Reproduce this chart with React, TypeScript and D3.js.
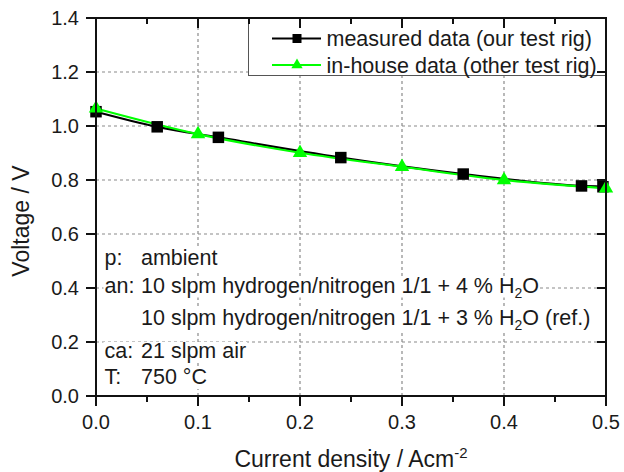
import React, { useEffect, useRef } from "react";
import * as d3 from "d3";

const measuredX = [0, 0.06, 0.12, 0.24, 0.36, 0.476, 0.497];
const measuredY = [1.053, 0.997, 0.958, 0.883, 0.822, 0.778, 0.775];
const inhouseX = [0, 0.1, 0.2, 0.3, 0.4, 0.5];
const inhouseY = [1.065, 0.97, 0.901, 0.849, 0.8, 0.769];
const xTicks = [0, 0.1, 0.2, 0.3, 0.4, 0.5];
const xMinorTicks = [0.05, 0.15, 0.25, 0.35, 0.45];
const yTicks = [0, 0.2, 0.4, 0.6, 0.8, 1.0, 1.2, 1.4];
const legendLabels = ["measured data (our test rig)", "in-house data (other test rig)"];

const W = 624, H = 472;
const FONT = "'Liberation Sans', Arial, sans-serif";

export default function App() {
  const ref = useRef<SVGSVGElement>(null);
  useEffect(() => {
    const svg = d3.select(ref.current);
    svg.selectAll("*").remove();
    const x = d3.scaleLinear().domain([0, 0.5]).range([96, 606]);
    const y = d3.scaleLinear().domain([0, 1.4]).range([396, 18]);
    const [x0, x1] = x.range();
    const [y0, y1] = y.range();
    const grid = "#8a8a8a";

    // grid
    const g = svg.append("g");
    g.selectAll("line.vg").data(xTicks.slice(1, -1)).enter().append("line")
      .attr("x1", d => x(d)).attr("x2", d => x(d)).attr("y1", y0).attr("y2", y1)
      .attr("stroke", grid).attr("stroke-width", 1.2).attr("stroke-dasharray", "3,3");
    g.selectAll("line.hg").data(yTicks.slice(1, -1)).enter().append("line")
      .attr("y1", d => y(d)).attr("y2", d => y(d)).attr("x1", x0).attr("x2", x1)
      .attr("stroke", grid).attr("stroke-width", 1.2).attr("stroke-dasharray", "3,3");

    // legend box
    svg.append("rect").attr("x", 248.5).attr("y", y1).attr("width", x1 - 248.5).attr("height", 57.5)
      .attr("fill", "#fff").attr("stroke", "#555").attr("stroke-width", 1);

    // annotations
    const ann = svg.append("g").attr("font-family", FONT).attr("font-size", 21.5).attr("fill", "#1a1a1a");
    const rows: { label: string; text: string; base: number; sub?: string; after?: string }[] = [
      { label: "p:", text: "ambient", base: 265 },
      { label: "an:", text: "10 slpm hydrogen/nitrogen 1/1 + 4 % H", sub: "2", after: "O", base: 292.5 },
      { label: "", text: "10 slpm hydrogen/nitrogen 1/1 + 3 % H", sub: "2", after: "O (ref.)", base: 325 },
      { label: "ca:", text: "21 slpm air", base: 358 },
      { label: "T:", text: "750 °C", base: 384 },
    ];
    rows.forEach(r => {
      const bg = ann.append("rect").attr("fill", "#fff");
      const row = ann.append("g");
      if (r.label) row.append("text").attr("x", 104.5).attr("y", r.base).text(r.label);
      const t = row.append("text").attr("x", 141).attr("y", r.base);
      t.append("tspan").text(r.text);
      if (r.sub) {
        t.append("tspan").attr("dy", 5).attr("font-size", 14).text(r.sub);
        t.append("tspan").attr("dy", -5).text(r.after!);
      }
      const bb = (row.node() as SVGGElement).getBBox();
      bg.attr("x", bb.x - 1).attr("width", bb.width + 2).attr("y", r.base - 16).attr("height", 21);
    });

    // lines
    const line = d3.line<[number, number]>().x(d => x(d[0])).y(d => y(d[1])).curve(d3.curveMonotoneX);
    const mData = measuredX.map((v, i) => [v, measuredY[i]] as [number, number]);
    const iData = inhouseX.map((v, i) => [v, inhouseY[i]] as [number, number]);
    svg.append("path").attr("d", line(mData)!).attr("fill", "none").attr("stroke", "#000").attr("stroke-width", 2.2);
    svg.append("path").attr("d", line(iData)!).attr("fill", "none").attr("stroke", "#00ff00").attr("stroke-width", 2.2);

    const sq = 11.5;
    svg.selectAll("rect.m").data(mData).enter().append("rect")
      .attr("x", d => x(d[0]) - sq / 2).attr("y", d => y(d[1]) - sq / 2)
      .attr("width", sq).attr("height", sq).attr("fill", "#000");
    const tri = d3.symbol().type(d3.symbolTriangle).size(90);
    svg.selectAll("path.t").data(iData).enter().append("path")
      .attr("d", tri()!).attr("transform", d => `translate(${x(d[0])},${y(d[1])})`).attr("fill", "#00ff00");

    // legend contents
    const lg = svg.append("g");
    const ly = [38.5, 65];
    lg.append("line").attr("x1", 272).attr("x2", 321).attr("y1", ly[0]).attr("y2", ly[0]).attr("stroke", "#000").attr("stroke-width", 2.2);
    lg.append("rect").attr("x", 297 - 4.5).attr("y", ly[0] - 4.5).attr("width", 9).attr("height", 9).attr("fill", "#000");
    lg.append("line").attr("x1", 272).attr("x2", 321).attr("y1", ly[1]).attr("y2", ly[1]).attr("stroke", "#00ff00").attr("stroke-width", 2.2);
    lg.append("path").attr("d", d3.symbol().type(d3.symbolTriangle).size(55)()!).attr("transform", `translate(297,${ly[1]})`).attr("fill", "#00ff00");
    legendLabels.forEach((l, i) => {
      lg.append("text").attr("x", 326.5).attr("y", ly[i] + 7.5).attr("font-family", FONT).attr("font-size", 21.5)
        .attr("fill", "#1a1a1a").text(l);
    });

    // frame
    svg.append("rect").attr("x", x0).attr("y", y1).attr("width", x1 - x0).attr("height", y0 - y1)
      .attr("fill", "none").attr("stroke", "#111").attr("stroke-width", 2);

    const tk = svg.append("g").attr("stroke", "#111").attr("stroke-width", 2);
    xTicks.forEach(t => {
      tk.append("line").attr("x1", x(t)).attr("x2", x(t)).attr("y1", y0).attr("y2", y0 + 10);
      tk.append("line").attr("x1", x(t)).attr("x2", x(t)).attr("y1", y1).attr("y2", y1 + 10);
    });
    xMinorTicks.forEach(t => {
      tk.append("line").attr("x1", x(t)).attr("x2", x(t)).attr("y1", y0).attr("y2", y0 + 6);
      tk.append("line").attr("x1", x(t)).attr("x2", x(t)).attr("y1", y1).attr("y2", y1 + 6);
    });
    yTicks.forEach(t => {
      tk.append("line").attr("x1", x0 - 10).attr("x2", x0).attr("y1", y(t)).attr("y2", y(t));
      tk.append("line").attr("x1", x1 - 9).attr("x2", x1).attr("y1", y(t)).attr("y2", y(t));
    });

    const lab = svg.append("g").attr("font-family", FONT).attr("font-size", 20).attr("fill", "#1a1a1a");
    xTicks.forEach(t => {
      lab.append("text").attr("x", x(t)).attr("y", 429).attr("text-anchor", "middle").text(d3.format(".1f")(t));
    });
    yTicks.forEach(t => {
      lab.append("text").attr("x", 79).attr("y", y(t) + 7).attr("text-anchor", "end").text(d3.format(".1f")(t));
    });

    // axis titles
    const xt = svg.append("text").attr("x", 351).attr("y", 467).attr("text-anchor", "middle")
      .attr("font-family", FONT).attr("font-size", 23).attr("fill", "#1a1a1a");
    xt.append("tspan").text("Current density / Acm");
    xt.append("tspan").attr("dy", -9).attr("font-size", 15).text("-2");
    svg.append("text").attr("transform", "translate(29,221) rotate(-90)").attr("text-anchor", "middle")
      .attr("font-family", FONT).attr("font-size", 23).attr("fill", "#1a1a1a").text("Voltage / V");
  }, []);
  return (
    <svg ref={ref} width={W} height={H} style={{ position: "absolute", left: 0, top: 0, background: "#fff" }} />
  );
}
